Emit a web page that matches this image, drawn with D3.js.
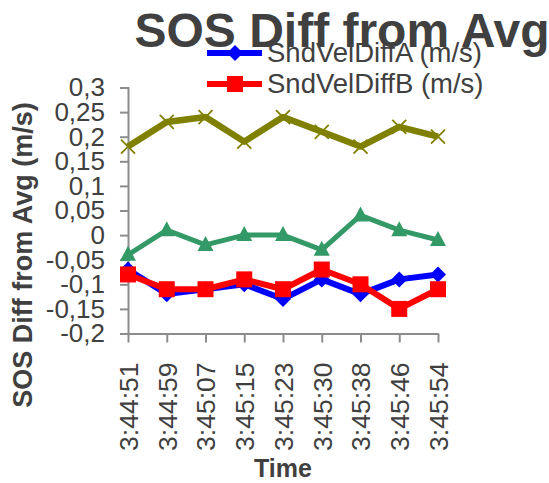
<!DOCTYPE html>
<html>
<head>
<meta charset="utf-8">
<script src="https://cdn.jsdelivr.net/npm/d3@7/dist/d3.min.js"></script>
<style>
  html, body { margin: 0; padding: 0; background: #ffffff; }
  svg { display: block; }
  text { font-family: "Liberation Sans", Arial, sans-serif; fill: #404040; }
</style>
</head>
<body>
<svg id="chart" width="549" height="483"></svg>
<script>
// Sample times along the x axis
const times = ["3:44:51", "3:44:59", "3:45:07", "3:45:15", "3:45:23", "3:45:30", "3:45:38", "3:45:46", "3:45:54"];

// Sound-velocity differences from the average (m/s)
const sndVelDiffA = [-0.07, -0.12, -0.11, -0.10, -0.13, -0.09, -0.12, -0.09, -0.08];
const sndVelDiffB = [-0.08, -0.11, -0.11, -0.09, -0.11, -0.07, -0.10, -0.15, -0.11];
const sndVelDiffC = [-0.04, 0.01, -0.02, 0.00, 0.00, -0.03, 0.04, 0.01, -0.01];
const sndVelDiffD = [0.18, 0.23, 0.24, 0.19, 0.24, 0.21, 0.18, 0.22, 0.20];

// Y axis tick values and their labels (decimal comma)
const yTicks = [0.3, 0.25, 0.2, 0.15, 0.1, 0.05, 0, -0.05, -0.1, -0.15, -0.2];
const yTickLabels = ["0,3", "0,25", "0,2", "0,15", "0,1", "0,05", "0", "-0,05", "-0,1", "-0,15", "-0,2"];

const series = [
  { name: "SndVelDiffD", values: sndVelDiffD, color: "#808000", width: 6.5, marker: "x" },
  { name: "SndVelDiffC", values: sndVelDiffC, color: "#339966", width: 5, marker: "triangle" },
  { name: "SndVelDiffA (m/s)", values: sndVelDiffA, color: "#0000ff", width: 6, marker: "diamond", legend: true },
  { name: "SndVelDiffB (m/s)", values: sndVelDiffB, color: "#ff0000", width: 6, marker: "square", legend: true }
];

const svg = d3.select("#chart");
const axisColor = "#8c8c8c";

const x = d3.scalePoint().domain(times).range([128, 438]);
const y = d3.scaleLinear().domain([-0.2, 0.3]).range([333.5, 87.5]);

// Y axis
const yAxis = svg.append("g")
  .attr("transform", "translate(128,0)")
  .call(d3.axisLeft(y).tickValues(yTicks).tickSize(8).tickPadding(15)
    .tickFormat((d, i) => yTickLabels[i]));
yAxis.select(".domain").attr("stroke", axisColor).attr("stroke-width", 2);
yAxis.selectAll(".tick line").attr("stroke", axisColor).attr("stroke-width", 2);
yAxis.selectAll(".tick text")
  .attr("font-size", 26)
  .attr("fill", "#404040")
  .style("font-family", "'Liberation Sans', Arial, sans-serif");

// X axis
const xAxis = svg.append("g")
  .attr("transform", "translate(0,333.5)")
  .call(d3.axisBottom(x).tickSize(9).tickSizeOuter(0));
xAxis.select(".domain").attr("stroke", axisColor).attr("stroke-width", 2);
xAxis.selectAll(".tick line").attr("stroke", axisColor).attr("stroke-width", 2);
xAxis.selectAll(".tick text")
  .attr("font-size", 26.5)
  .attr("fill", "#404040")
  .style("font-family", "'Liberation Sans', Arial, sans-serif")
  .attr("text-anchor", "end")
  .attr("transform", "rotate(-90)")
  .attr("x", -29)
  .attr("y", 0)
  .attr("dy", "0.35em");

// Marker shapes
function drawMarker(g, kind, color, cx, cy) {
  if (kind === "diamond") {
    g.append("path").attr("d", `M${cx},${cy - 8}L${cx + 8},${cy}L${cx},${cy + 8}L${cx - 8},${cy}Z`)
      .attr("fill", color);
  } else if (kind === "square") {
    g.append("rect").attr("x", cx - 8).attr("y", cy - 8).attr("width", 16).attr("height", 16)
      .attr("fill", color);
  } else if (kind === "triangle") {
    g.append("path").attr("d", `M${cx},${cy - 9}L${cx + 8},${cy + 6}L${cx - 8},${cy + 6}Z`)
      .attr("fill", color);
  } else if (kind === "x") {
    g.append("path").attr("d", `M${cx - 7},${cy - 7}L${cx + 7},${cy + 7}M${cx - 7},${cy + 7}L${cx + 7},${cy - 7}`)
      .attr("stroke", color).attr("stroke-width", 1.8).attr("fill", "none");
  }
}

const line = d3.line().x((d, i) => x(times[i])).y(d => y(d));

series.forEach(s => {
  const g = svg.append("g");
  g.append("path").datum(s.values)
    .attr("d", line)
    .attr("fill", "none")
    .attr("stroke", s.color)
    .attr("stroke-width", s.width)
    .attr("stroke-linejoin", "round");
  s.values.forEach((v, i) => drawMarker(g, s.marker, s.color, x(times[i]), y(v)));
});

// Title
svg.append("text")
  .attr("x", 342).attr("y", 47)
  .attr("text-anchor", "middle")
  .attr("font-size", 48)
  .attr("font-weight", "bold")
  .attr("fill", "#404040")
  .text("SOS Diff from Avg");

// Legend
const legendItems = series.filter(s => s.legend);
const legendY = [53, 84];
legendItems.forEach((s, i) => {
  const g = svg.append("g");
  const ly = legendY[i];
  g.append("line").attr("x1", 207).attr("x2", 262).attr("y1", ly).attr("y2", ly)
    .attr("stroke", s.color).attr("stroke-width", 6);
  drawMarker(g, s.marker, s.color, 235, ly);
  g.append("text")
    .attr("x", 267).attr("y", ly + 8.5)
    .attr("font-size", 27.5)
    .attr("fill", "#404040")
    .text(s.name);
});

// Axis titles
svg.append("text")
  .attr("transform", "translate(32,255) rotate(-90)")
  .attr("text-anchor", "middle")
  .attr("font-size", 27)
  .attr("font-weight", "bold")
  .attr("fill", "#404040")
  .text("SOS Diff from Avg (m/s)");

svg.append("text")
  .attr("x", 283).attr("y", 477)
  .attr("text-anchor", "middle")
  .attr("font-size", 25)
  .attr("font-weight", "bold")
  .attr("fill", "#404040")
  .text("Time");
</script>
</body>
</html>
